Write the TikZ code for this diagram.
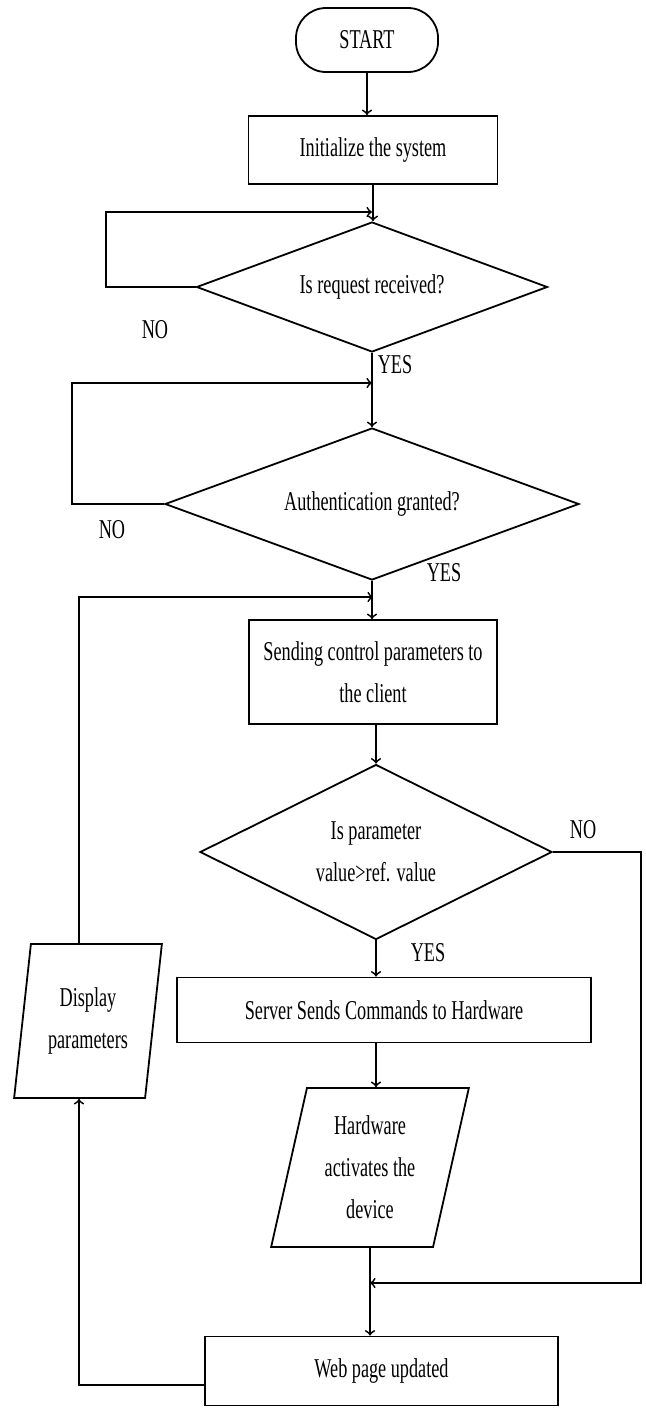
\documentclass[tikz,border=0pt]{standalone}
\usepackage{fontspec}
\setmainfont[FakeStretch=0.67]{Liberation Serif}
\usetikzlibrary{shapes.geometric}

\begin{document}
\begin{tikzpicture}[x=0.5pt,y=-0.5pt,line width=0.9pt,
      every node/.style={font=\fontsize{13.6}{21}\selectfont},
      term/.style={draw,rectangle,rounded corners=15pt,minimum width=71pt,minimum height=32pt},
      proc/.style={draw,rectangle,align=center,inner sep=0pt},
      dec/.style={draw,diamond,align=center,inner sep=0pt},
      inout/.style={draw,trapezium,trapezium stretches=true,align=center,inner sep=0pt}]
      \useasboundingbox (0,0) rectangle (646,1408);
      % main column
      \node[term] (start) at (367,40) {START};
      \node[proc,minimum width=124.5pt,minimum height=34pt] (init) at (373,150) {Initialize the system};
      \node[dec,aspect=2.7,minimum width=175.5pt,minimum height=65pt] (ask) at (372,287) {Is request received?};
      \node[dec,aspect=2.7,minimum width=207pt,minimum height=76pt] (auth) at (372,504) {Authentication granted?};
      \node[proc,minimum width=124pt,minimum height=52pt] (send) at (373,672) {Sending control parameters to\\the client};
      \node[dec,aspect=2,minimum width=176pt,minimum height=87.5pt] (cmp) at (376,852) {Is parameter\\value>ref. value};
      \node[proc,minimum width=207pt,minimum height=32.5pt] (server) at (384,1010) {Server Sends Commands to Hardware};
      \node[inout,trapezium left angle=76,trapezium right angle=104,minimum width=99.5pt,minimum height=79.5pt] (hw) at (370,1167.5) {Hardware\\activates the\\device};
      \node[proc,minimum width=176.5pt,minimum height=34.5pt] (web) at (381.5,1371) {Web page updated};
      % left side
      \node[inout,trapezium left angle=80,trapezium right angle=100,minimum width=74pt,minimum height=77pt] (disp) at (88,1021) {Display\\parameters};
      % labels
      \node (no1) at (155,330) {NO};
      \node (yes1) at (395,365) {YES};
      \node (no2) at (112,530) {NO};
      \node (yes2) at (444,573) {YES};
      \node (no3) at (583,830) {NO};
      \node (yes3) at (428,953) {YES};
      % arrows down
      \draw[->] (start.south) -- (start.south |- init.north);
      \draw[->] (init.south) -- (init.south |- ask.north);
      \draw[->] (ask.south) -- (auth.north);
      \draw[->] (auth.south) -- (auth.south |- send.north);
      \draw[->] (send.south -| cmp.north) -- (cmp.north);
      \draw[->] (cmp.south) -- (cmp.south |- server.north);
      \draw[->] (cmp.south |- server.south) -- (cmp.south |- hw.north);
      \draw[->] (hw.south) -- (hw.south |- web.north);
      % loops
      \coordinate (loop1) at (106,212);
      \draw[->] (ask.west) -| (loop1) -- (loop1 -| ask.north);
      \coordinate (loop2) at (72,383);
      \draw[->] (auth.west) -| (loop2) -- (loop2 -| auth.north);
      \coordinate (loop3) at (641,1283);
      \draw[->] (cmp.east) -| (loop3) -- (loop3 -| hw.south);
      \coordinate (upd) at (79,1385);
      \draw[->] (upd -| web.west) -- (upd) -- (upd |- disp.south);
      \coordinate (back) at (79,597);
      \draw[->] (back |- disp.north) -- (back) -- (back -| send.north);
    \end{tikzpicture}
\end{document}
